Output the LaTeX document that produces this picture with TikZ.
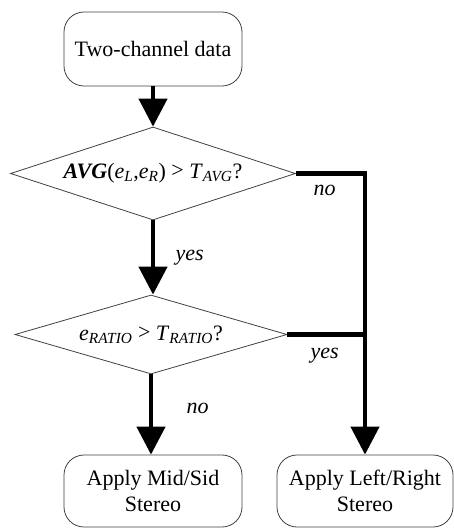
\documentclass[tikz,border=0pt]{standalone}
\usepackage{fontspec}
\setmainfont{Liberation Serif}
\usetikzlibrary{shapes.geometric,arrows.meta}

\begin{document}
\begin{tikzpicture}[x=1pt, y=-1pt,
  every node/.style={font=\fontsize{22}{26}\selectfont},
  blk/.style={draw=black!75, line width=0.8pt, rounded corners=20pt, align=center, inner sep=0pt},
  test/.style={draw=black!75, line width=0.8pt, diamond, aspect=3, inner sep=0pt},
  flow/.style={line width=4.5pt, -{Triangle[width=28pt,length=28pt]}},
  lbl/.style={anchor=base west, font=\fontsize{22}{26}\selectfont\itshape}]
\useasboundingbox (0,0) rectangle (454,528);
%%%%% Boxes %%%%%
\node[blk, minimum width=178pt, minimum height=74pt] (data) at (153,49) {Two-channel data};
\node[test, minimum width=285pt, minimum height=93pt] (avg) at (153,173.5)
  {\textit{\textbf{AVG}}(\textit{e}\textsubscript{\textit{L}},\textit{e}\textsubscript{\textit{R}}) \raisebox{1pt}{>} \textit{T}\textsubscript{\textit{AVG}}?};
\node[test, minimum width=272pt, minimum height=79pt] (ratio) at (151,334.5)
  {\textit{e}\textsubscript{\textit{RATIO}} \raisebox{1pt}{>} \textit{T}\textsubscript{\textit{RATIO}}?};
\node[blk, minimum width=178pt, minimum height=72pt] (midside) at (153,491) {Apply Mid/Sid\\Stereo};
\node[blk, minimum width=176pt, minimum height=72pt] (leftright) at (365,491) {Apply Left/Right\\Stereo};
%%%%% Flow %%%%%
\draw[flow] (data) -- (avg);
\draw[flow] (avg.south) -- (avg.south |- ratio.north);
\draw[flow] (ratio.south) -- (ratio.south |- midside.north);
\draw[flow] (avg.east) -| (leftright.north);
\draw[line width=4.5pt] (ratio.east) -- (ratio.east -| leftright.north);
%%%%% Labels %%%%%
\node[lbl] (no1) at (310,195) {no};
\node[lbl] (yes1) at (172,260) {yes};
\node[lbl] (yes2) at (307,358) {yes};
\node[lbl] (no2) at (183,413) {no};
\end{tikzpicture}
\end{document}
